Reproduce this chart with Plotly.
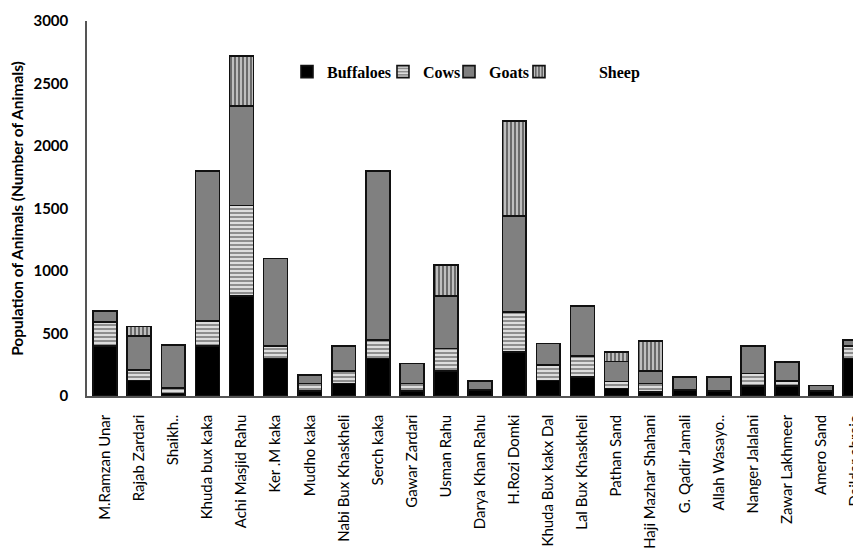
import plotly.graph_objects as go

categories = ["M.Ramzan Unar", "Rajab Zardari", "Shaikh..", "Khuda bux kaka", "Achi Masjid Rahu",
              "Ker .M kaka", "Mudho kaka", "Nabi Bux Khaskheli", "Serch kaka", "Gawar Zardari",
              "Usman Rahu", "Darya Khan Rahu", "H.Rozi Domki", "Khuda Bux kakx Dal", "Lal Bux Khaskheli",
              "Pathan Sand", "Haji Mazhar Shahani", "G. Qadir Jamali", "Allah Wasayo..", "Nanger Jalalani",
              "Zawar Lakhmeer", "Amero Sand", "Daildar abrejo"]

buffaloes = [400, 125, 20, 400, 800, 300, 40, 100, 300, 40, 200, 50, 350, 125, 150, 60, 30, 50, 40, 80, 80, 40, 300]
cows      = [190, 85, 42, 200, 725, 100, 60, 100, 150, 60, 180, 0, 320, 125, 170, 55, 70, 0, 0, 100, 40, 0, 100]
goats     = [90, 270, 348, 1200, 795, 700, 70, 200, 1350, 160, 420, 70, 770, 170, 400, 160, 100, 100, 110, 220, 150, 45, 50]
sheep     = [0, 75, 0, 0, 400, 0, 0, 0, 0, 0, 250, 0, 760, 0, 0, 75, 240, 0, 0, 0, 0, 0, 0]

y_ticks = [0, 500, 1000, 1500, 2000, 2500, 3000]

line = dict(color="#111111", width=1.6)

fig = go.Figure()
fig.add_trace(go.Bar(x=categories, y=buffaloes, name="Buffaloes", legend="legend",
                     marker=dict(color="#000000", line=line)))
fig.add_trace(go.Bar(x=categories, y=cows, name="Cows", legend="legend2",
                     marker=dict(color="#9a9a9a", line=line,
                                 pattern=dict(shape="-", fgcolor="#e6e6e6", bgcolor="#8e8e8e",
                                              size=4, solidity=0.45, fillmode="replace"))))
fig.add_trace(go.Bar(x=categories, y=goats, name="Goats", legend="legend3",
                     marker=dict(color="#808080", line=line)))
fig.add_trace(go.Bar(x=categories, y=sheep, name="\u00a0" * 10 + "Sheep", legend="legend4",
                     marker=dict(color="#777777", line=line,
                                 pattern=dict(shape="|", fgcolor="#c8c8c8", bgcolor="#6a6a6a",
                                              size=4, solidity=0.45, fillmode="replace"))))

legend_font = dict(family="Liberation Serif", size=16, color="black", weight="bold")
def leg(x):
    return dict(orientation="h", x=x, y=0.91, xanchor="left", yanchor="top",
                font=legend_font, itemwidth=30, bgcolor="rgba(0,0,0,0)")

fig.update_layout(
    barmode="stack",
    bargap=0.30,
    width=853, height=544,
    margin=dict(l=79, r=0, t=13, b=156),
    plot_bgcolor="white", paper_bgcolor="white",
    showlegend=True,
    legend=leg(0.2584), legend2=leg(0.3824), legend3=leg(0.4677), legend4=leg(0.5581),
    font=dict(family="Lato", color="black"),
)
fig.update_xaxes(range=[-0.53, 22.17], tickangle=-90, showgrid=False,
                 showline=True, linecolor="#555555", linewidth=1.5,
                 tickfont=dict(family="Lato", size=15, color="black"),
                 automargin=False, ticks="", ticklabelstandoff=11)
fig.update_yaxes(range=[0, 3000], tickvals=y_ticks, showgrid=False, zeroline=False,
                 showline=True, linecolor="#555555", linewidth=1.5,
                 tickfont=dict(family="Lato", size=15, color="black", weight="bold"),
                 title=dict(text="Population of Animals (Number of Animals)",
                            font=dict(family="Lato", size=15.5, color="black", weight="bold"),
                            standoff=6),
                 automargin=False, ticks="", ticklabelstandoff=14)

fig.write_html("out.html")
